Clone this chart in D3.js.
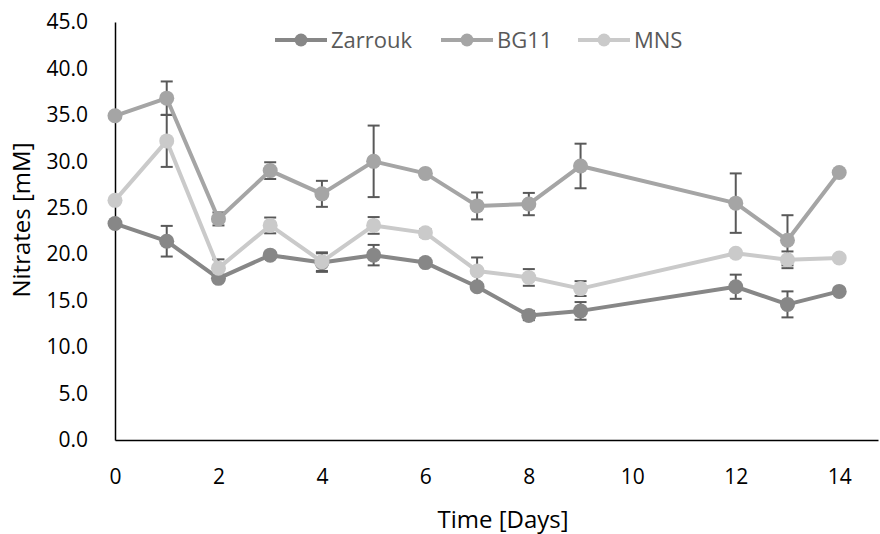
<!DOCTYPE html>
<html>
<head>
<meta charset="utf-8">
<script src="https://cdn.jsdelivr.net/npm/d3@7"></script>
<style>
  body { margin: 0; background: #fff; }
  text { font-family: 'Open Sans', 'Noto Sans', sans-serif; }
</style>
</head>
<body>
<div id="chart"></div>
<script>
const days = [0, 1, 2, 3, 4, 5, 6, 7, 8, 9, 12, 13, 14];
const zarrouk = [23.3, 21.4, 17.4, 19.9, 19.1, 19.9, 19.1, 16.5, 13.4, 13.9, 16.5, 14.6, 16.0];
const zarroukErr = [0.3, 1.65, 0.3, 0.3, 1.0, 1.1, 0.3, 0.3, 0.5, 0.95, 1.3, 1.4, 0];
const bg11 = [34.9, 36.8, 23.8, 29.0, 26.5, 30.0, 28.7, 25.2, 25.4, 29.5, 25.5, 21.5, 28.8];
const bg11Err = [0.3, 1.8, 0.7, 0.9, 1.4, 3.85, 0.3, 1.45, 1.2, 2.4, 3.2, 2.7, 0];
const mns = [25.8, 32.2, 18.5, 23.1, 19.2, 23.1, 22.3, 18.2, 17.5, 16.3, 20.1, 19.4, 19.6];
const mnsErr = [0.3, 2.8, 0.95, 0.85, 1.0, 0.9, 0.4, 1.45, 0.9, 0.8, 0.3, 0.9, 0];
const seriesNames = ['Zarrouk', 'BG11', 'MNS'];
const seriesColors = ['#878787', '#a5a5a5', '#cacaca'];
const yTicks = [0, 5, 10, 15, 20, 25, 30, 35, 40, 45];
const xTicks = [0, 2, 4, 6, 8, 10, 12, 14];

const width = 880;
const height = 534;

const series = [
  { name: seriesNames[0], values: zarrouk, err: zarroukErr, color: seriesColors[0] },
  { name: seriesNames[1], values: bg11, err: bg11Err, color: seriesColors[1] },
  { name: seriesNames[2], values: mns, err: mnsErr, color: seriesColors[2] },
];

const x_scale = d3.scaleLinear().domain([0, 14.75]).range([115, 878]);
const y_scale = d3.scaleLinear().domain([0, 45]).range([440, 22]);

const svg = d3
  .select('#chart')
  .append('svg')
  .attr('width', width)
  .attr('height', height)
  .attr('viewBox', [0, 0, width, height]);

// axes
const xAxis = svg
  .append('g')
  .attr('transform', `translate(0, ${y_scale(0)})`)
  .call(d3.axisBottom(x_scale).tickValues(xTicks).tickSize(0).tickPadding(29).tickSizeOuter(0));
xAxis.select('.domain').attr('stroke', '#000').attr('stroke-width', 1.5);
xAxis.selectAll('text').attr('font-size', 21).attr('fill', '#000');

const yAxis = svg
  .append('g')
  .attr('transform', `translate(${x_scale(0)}, 0)`)
  .call(d3.axisLeft(y_scale).tickValues(yTicks).tickFormat(d3.format('.1f')).tickSize(0).tickPadding(27).tickSizeOuter(0));
yAxis.select('.domain').attr('stroke', '#000').attr('stroke-width', 1.5);
yAxis.selectAll('text').attr('font-size', 21).attr('fill', '#000');

// axis titles
svg.append('text')
  .attr('x', 503)
  .attr('y', 528)
  .attr('text-anchor', 'middle')
  .attr('font-size', 24)
  .attr('fill', '#000')
  .text('Time [Days]');

svg.append('text')
  .attr('transform', `translate(30, 220) rotate(-90)`)
  .attr('text-anchor', 'middle')
  .attr('font-size', 24)
  .attr('fill', '#000')
  .text('Nitrates [mM]');

// error bars, behind the markers
const cap = 6;
series.forEach((s) => {
  const g = svg.append('g').attr('stroke', '#595959').attr('stroke-width', 2);
  days.forEach((d, i) => {
    if (!s.err[i]) return;
    const cx = x_scale(d);
    const y1 = y_scale(s.values[i] + s.err[i]);
    const y2 = y_scale(s.values[i] - s.err[i]);
    g.append('line').attr('x1', cx).attr('x2', cx).attr('y1', y1).attr('y2', y2);
    g.append('line').attr('x1', cx - cap).attr('x2', cx + cap).attr('y1', y1).attr('y2', y1);
    g.append('line').attr('x1', cx - cap).attr('x2', cx + cap).attr('y1', y2).attr('y2', y2);
  });
});

// lines and markers
const line = d3
  .line()
  .x((d) => x_scale(d.x))
  .y((d) => y_scale(d.y));

series.forEach((s) => {
  const pts = days.map((d, i) => ({ x: d, y: s.values[i] }));
  svg.append('path')
    .datum(pts)
    .attr('fill', 'none')
    .attr('stroke', s.color)
    .attr('stroke-width', 4)
    .attr('stroke-linejoin', 'round')
    .attr('d', line);
  svg.append('g')
    .selectAll('circle')
    .data(pts)
    .enter()
    .append('circle')
    .attr('cx', (d) => x_scale(d.x))
    .attr('cy', (d) => y_scale(d.y))
    .attr('r', 7.5)
    .attr('fill', s.color);
});

// legend
const legendX = [275, 441, 578];
const legend = svg.append('g');
series.forEach((s, i) => {
  const lg = legend.append('g').attr('transform', `translate(${legendX[i]}, 40)`);
  lg.append('line').attr('x1', 0).attr('x2', 52).attr('y1', 0).attr('y2', 0)
    .attr('stroke', s.color).attr('stroke-width', 4);
  lg.append('circle').attr('cx', 26).attr('cy', 0).attr('r', 6.5).attr('fill', s.color);
  lg.append('text').attr('x', 56).attr('y', 0).attr('dy', '0.35em')
    .attr('font-size', 22).attr('fill', '#595959').text(s.name);
});
</script>
</body>
</html>
